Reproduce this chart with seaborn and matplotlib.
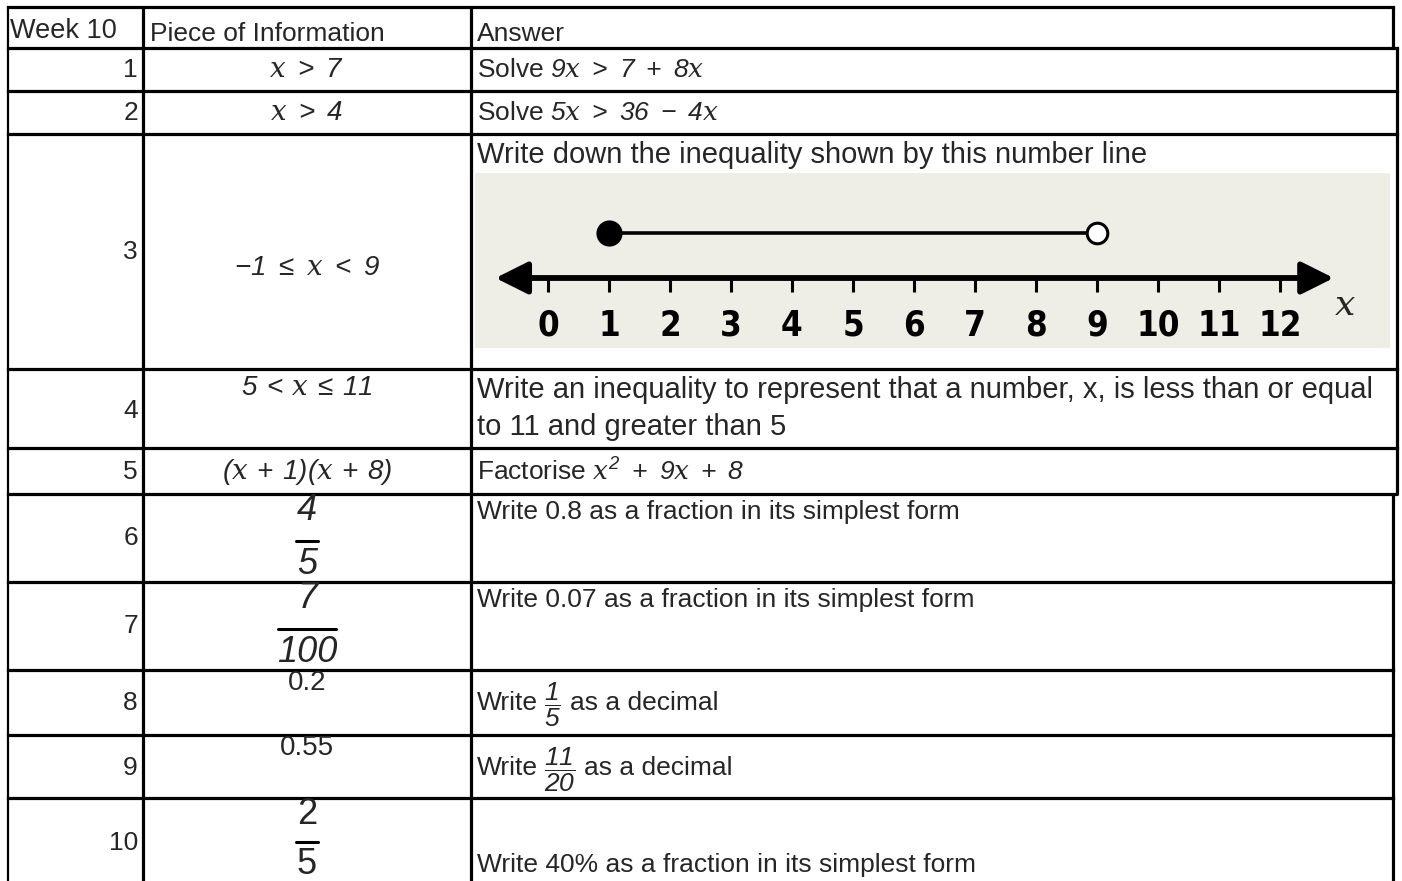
import matplotlib
matplotlib.use("Agg")
import matplotlib.pyplot as plt
from matplotlib import font_manager
import seaborn as sns
import pandas as pd

# ---------------- data ----------------
week_label = "Week 10"
col_headers = ["Piece of Information", "Answer"]
question_nums = ["1", "2", "3", "4", "5", "6", "7", "8", "9", "10"]
info_texts = [r"$x\;>\;7$", r"$x\;>\;4$", r"$-1\;\leq\;x\;<\;9$", r"$5\,<\,x\,\leq\,11$",
              r"$(x\,+\,1)(x\,+\,8)$", None, None, "0.2", "0.55", None]
info_fractions = {5: ("4", "5"), 6: ("7", "100"), 9: ("2", "5")}
answer_texts = [r"Solve $9x\;>\;7\;+\;8x$",
                r"Solve $5x\;>\;36\;-\;4x$",
                "Write down the inequality shown by this number line",
                "Write an inequality to represent that a number, x, is less than or equal",
                r"Factorise $x^2\;+\;9x\;+\;8$",
                "Write 0.8 as a fraction in its simplest form",
                "Write 0.07 as a fraction in its simplest form",
                ("Write", r"$\dfrac{1}{5}$", "as a decimal"),
                ("Write", r"$\dfrac{11}{20}$", "as a decimal"),
                "Write 40% as a fraction in its simplest form"]
answer_extra_line = "to 11 and greater than 5"
numline_ticks = list(range(0, 13))
interval_vals = [1, 9]
interval_closed = [True, False]

# ---------------- style ----------------
sns.set_theme(style="white")
plt.rcParams["font.family"] = ["Liberation Sans", "DejaVu Sans"]
plt.rcParams["mathtext.fontset"] = "custom"
plt.rcParams["mathtext.rm"] = "Liberation Sans:italic"
plt.rcParams["mathtext.it"] = "DejaVu Serif:italic"
plt.rcParams["mathtext.bf"] = "Liberation Sans:bold"

W, H = 1402, 881
fig = plt.figure(figsize=(W / 100, H / 100), dpi=100)
fig.patch.set_facecolor("white")
ax = fig.add_axes([0, 0, 1, 1])
ax.set_xlim(0, W)
ax.set_ylim(H, 0)
ax.axis("off")
fig.canvas.draw()
renderer = fig.canvas.get_renderer()

LW = 2.3
# table grid
h_lines = [7, 48, 91, 134, 369, 448, 494, 582, 670, 735, 798]
h_right = [1393, 1397, 1397, 1397, 1397, 1397, 1395, 1393, 1393, 1393, 1393]
for y, xr in zip(h_lines, h_right):
    ax.plot([8, xr], [y, y], color="black", lw=LW, solid_capstyle="projecting")
ax.plot([8, 8], [7, H], color="black", lw=1.6)
ax.plot([143, 143], [7, H], color="black", lw=LW)
ax.plot([471, 471], [7, H], color="black", lw=LW)
ax.plot([1393, 1393], [7, 48], color="black", lw=LW)
ax.plot([1397, 1397], [48, 494], color="black", lw=LW)
ax.plot([1393, 1393], [494, H], color="black", lw=LW)

FS = 19
# header
ax.text(10, 31, week_label, fontsize=FS + 0.5, ha="left", va="center")
ax.text(150, 34, col_headers[0], fontsize=FS, ha="left", va="center")
ax.text(477, 34, col_headers[1], fontsize=FS, ha="left", va="center")

# question numbers
num_y = [70, 113, 252, 411, 472, 538, 626, 703, 768, 843]
for s, y in zip(question_nums, num_y):
    ax.text(138, y, s, fontsize=FS, ha="right", va="center")

# info column
CX = 307
info_y = [70, 113, 268, 388, 472, None, None, 683, 748, None]
for i, (s, y) in enumerate(zip(info_texts, info_y)):
    if s is None:
        continue
    ax.text(CX, y, s, fontsize=FS + 1, ha="center", va="center")

frac_pos = {5: (510, 541, 565, 11, True), 6: (598, 629, 652, 29, True), 9: (815, 842, 865, 11, False)}
for i, (num, den) in info_fractions.items():
    yn, yb, yd, hw, ital = frac_pos[i]
    style = "italic" if ital else "normal"
    ax.text(CX, yn, num, fontsize=26, ha="center", va="center", style=style)
    ax.text(CX, yd, den, fontsize=26, ha="center", va="center", style=style)
    ax.plot([CX - hw, CX + hw], [yb, yb], color="black", lw=2.2)

# answer column
ans_y = [70, 113, 155, 390, 472, 512, 600, 703, 768, 865]
ans_fs = [FS, FS, 21, 21, FS, FS, FS, FS, FS, FS]
for s, y, f in zip(answer_texts, ans_y, ans_fs):
    if isinstance(s, tuple):
        x = 477
        for k, part in enumerate(s):
            is_frac = part.startswith("$")
            fsz = 19 if is_frac else f
            t = ax.text(x, y + (2 if is_frac else 0), part, fontsize=fsz,
                        ha="left", va="center")
            bb = t.get_window_extent(renderer)
            x += bb.width + (9 if is_frac else 6)
    else:
        ax.text(477, y, s, fontsize=f, ha="left", va="center")
ax.text(477, 427, answer_extra_line, fontsize=21, ha="left", va="center")

# ---------------- number line (inset) ----------------
bx0, bx1, by0, by1 = 475, 1390, 173, 348
nax = fig.add_axes([bx0 / W, 1 - by1 / H, (bx1 - bx0) / W, (by1 - by0) / H])
nax.set_facecolor("#EEEDE6")
px_per_unit = 61.0
zero_px = 548
nax.set_xlim((bx0 - zero_px) / px_per_unit, (bx1 - zero_px) / px_per_unit)
axis_px = 278
py = 45.0
nax.set_ylim(-(by1 - axis_px) / py, (axis_px - by0) / py)
for side in ["top", "right", "left"]:
    nax.spines[side].set_visible(False)
nax.spines["bottom"].set_position(("data", 0))
nax.spines["bottom"].set_linewidth(4)
nax.spines["bottom"].set_bounds(-0.6, 12.6)
nax.set_yticks([])
nax.set_xticks(numline_ticks)

# find a condensed font for the tick labels, if one is installed
cond = [f for f in font_manager.fontManager.ttflist
        if ("Narrow" in f.name or "Condensed" in f.name or
            str(f.stretch) in ("condensed", "semi-condensed", "extra-condensed"))
        and f.style == "normal"]
cond_bold = [f for f in cond if (isinstance(f.weight, int) and f.weight >= 600) or f.weight in ("bold", "semibold", "demibold")]
pick = (cond_bold or cond)
if pick:
    tick_fp = font_manager.FontProperties(fname=pick[0].fname, size=25)
else:
    tick_fp = font_manager.FontProperties(family="Liberation Sans", weight="bold", size=23)
nax.set_xticklabels([str(t) for t in numline_ticks], fontproperties=tick_fp)
nax.tick_params(axis="x", direction="out", length=10, width=2.2, pad=12,
                bottom=True, colors="black")
nax.annotate("", xy=(12.88, 0), xytext=(-0.86, 0),
             arrowprops=dict(arrowstyle="<|-|>,head_length=0.9,head_width=0.45",
                             lw=4, color="black", shrinkA=0, shrinkB=0,
                             mutation_scale=22))

df = pd.DataFrame({"value": interval_vals, "closed": interval_closed, "level": [1, 1]})
sns.lineplot(data=df, x="value", y="level", ax=nax, color="black", lw=2.6, zorder=3)
sns.scatterplot(data=df[df["closed"]], x="value", y="level", ax=nax, s=300,
                color="black", edgecolor="black", linewidth=1.5, zorder=4)
sns.scatterplot(data=df[~df["closed"]], x="value", y="level", ax=nax, s=220,
                color="white", edgecolor="black", linewidth=2.2, zorder=4)
nax.set_xlabel("")
nax.set_ylabel("")
nax.text(13.07, -0.6, "x", fontsize=26, fontfamily="DejaVu Serif", style="italic",
         ha="center", va="center")

fig.savefig("out.png", dpi=100, facecolor="white")
